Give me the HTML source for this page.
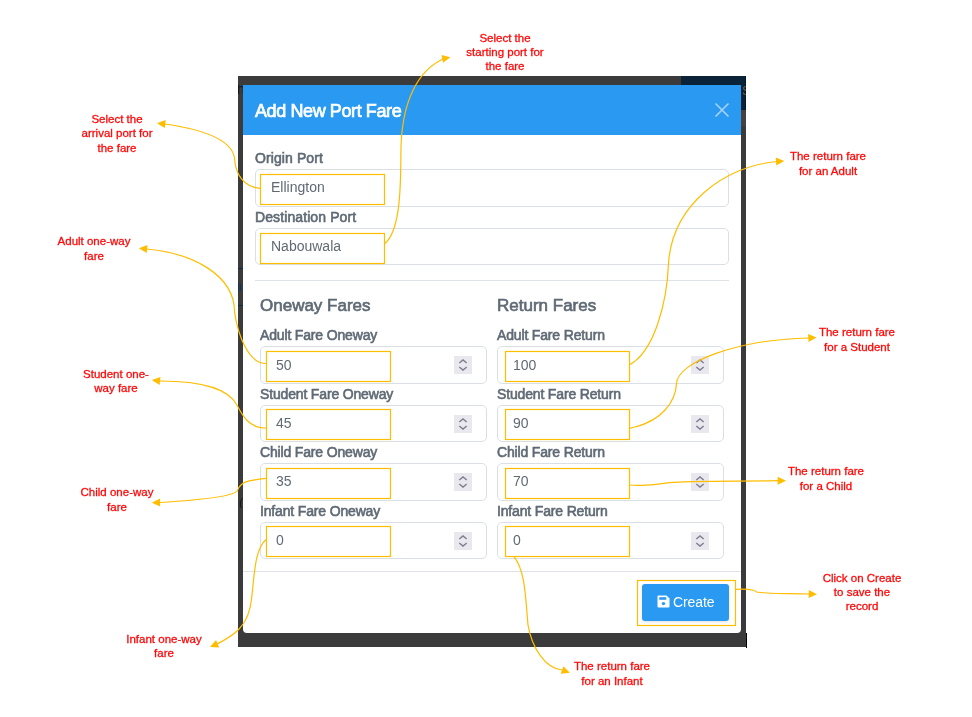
<!DOCTYPE html>
<html><head><meta charset="utf-8">
<style>
*{box-sizing:border-box;margin:0;padding:0}
html,body{width:972px;height:717px;overflow:hidden;background:#fff;font-family:"Liberation Sans",sans-serif}
.abs{position:absolute}
body>div,body>svg{will-change:transform}
#bd{left:238px;top:76px;width:508px;height:571px;background:#3b3b3b}
#navy{left:681px;top:76px;width:65px;height:34px;background:#0b2339}
#modal{left:243px;top:85px;width:498px;height:548px;background:#fff;border-radius:0 0 4px 4px}
#hdr{left:243px;top:85px;width:498px;height:50px;background:#2a99f2}
.title{font-size:18px;color:#fff;white-space:nowrap;line-height:22px;-webkit-text-stroke:0.7px #fff;letter-spacing:-0.4px}
.lbl{font-size:14px;color:#5f6a75;white-space:nowrap;line-height:16px;-webkit-text-stroke:0.6px #5f6a75;letter-spacing:0.1px}
.fl{letter-spacing:-0.16px}
.inp{border:1px solid #dadfe5;border-radius:5px;background:#fff}
.val{font-size:14px;color:#606a74;white-space:nowrap;line-height:16px}
.h5{font-size:17px;color:#5f6a75;white-space:nowrap;line-height:20px;-webkit-text-stroke:0.65px #5f6a75}
.sep{height:1px;background:#dfe3e8}
.ann{color:#ff0a0a;font-size:11.5px;line-height:14.4px;text-align:center;white-space:nowrap;-webkit-text-stroke:0.3px #ff0a0a}
</style></head><body>
<div class="abs" id="bd"></div>
<div class="abs" id="navy"></div>
<div class="abs" id="modal"></div>
<div class="abs" id="hdr"></div>
<div class="abs" style="left:741px;top:110px;width:5px;height:16px;background:#46413e"></div>
<div class="abs" style="left:746px;top:633px;width:1px;height:15px;background:#000"></div>
<div class="abs" style="left:745px;top:76px;width:1px;height:34px;background:#071624"></div>
<div class="abs" style="left:741px;top:84px;width:5px;height:14px;overflow:hidden"><div style="position:absolute;left:1px;top:0;font-size:13px;line-height:14px;color:#6a5d4b">S</div></div>
<div class="abs" style="left:238px;top:85px;width:5px;height:11px;overflow:hidden"><div style="position:absolute;left:-1px;top:-3px;font-size:14px;line-height:14px;color:#151a22">h</div></div>
<div class="abs" style="left:238px;top:268px;width:5px;height:1px;background:#0d2a48"></div>
<div class="abs" style="left:238px;top:305px;width:5px;height:1px;background:#0d2a48"></div>
<div class="abs" style="left:238px;top:283px;width:1px;height:8px;background:#173352"></div>
<div class="abs" style="left:240px;top:284px;width:1px;height:7px;background:#173352"></div>
<div class="abs" style="left:239px;top:498px;width:4px;height:10px;overflow:hidden"><div style="position:absolute;left:0;top:-2px;font-size:13px;line-height:14px;color:#15181e">(</div></div>
<div class="abs title" style="left:255px;top:100px">Add New Port Fare</div>
<svg class="abs" style="left:713px;top:101px" width="18" height="18" viewBox="0 0 18 18"><path d="M2.5 2.5L15.5 15.5M15.5 2.5L2.5 15.5" stroke="#a6d3f9" stroke-width="1.6" fill="none"/></svg>
<div class="abs lbl" style="left:255px;top:150px">Origin Port</div>
<div class="abs inp" style="left:255px;top:169px;width:474px;height:38px"></div>
<div class="abs val" style="left:271px;top:179px">Ellington</div>
<div class="abs lbl" style="left:255px;top:209px">Destination Port</div>
<div class="abs inp" style="left:255px;top:228px;width:474px;height:37px"></div>
<div class="abs val" style="left:271px;top:238px">Nabouwala</div>
<div class="abs sep" style="left:255px;top:280px;width:474px"></div>
<div class="abs h5" style="left:260px;top:296px">Oneway Fares</div>
<div class="abs h5" style="left:497px;top:296px">Return Fares</div>
<div class="abs lbl fl" style="left:260px;top:327px">Adult Fare Oneway</div>
<div class="abs inp" style="left:260px;top:346px;width:227px;height:38px"></div>
<div class="abs val" style="left:276px;top:357px">50</div>
<svg class="abs" style="left:454px;top:356px" width="18" height="18" viewBox="0 0 18 18"><rect width="18" height="18" fill="#e8e8ee"/><path d="M5.3 7L9 4L12.7 7M5.3 11L9 14L12.7 11" stroke="#7f7e8e" stroke-width="1.45" fill="none"/></svg>
<div class="abs lbl fl" style="left:497px;top:327px">Adult Fare Return</div>
<div class="abs inp" style="left:497px;top:346px;width:227px;height:38px"></div>
<div class="abs val" style="left:513px;top:357px">100</div>
<svg class="abs" style="left:691px;top:356px" width="18" height="18" viewBox="0 0 18 18"><rect width="18" height="18" fill="#e8e8ee"/><path d="M5.3 7L9 4L12.7 7M5.3 11L9 14L12.7 11" stroke="#7f7e8e" stroke-width="1.45" fill="none"/></svg>
<div class="abs lbl fl" style="left:260px;top:386px">Student Fare Oneway</div>
<div class="abs inp" style="left:260px;top:405px;width:227px;height:37px"></div>
<div class="abs val" style="left:276px;top:415px">45</div>
<svg class="abs" style="left:454px;top:414.5px" width="18" height="18" viewBox="0 0 18 18"><rect width="18" height="18" fill="#e8e8ee"/><path d="M5.3 7L9 4L12.7 7M5.3 11L9 14L12.7 11" stroke="#7f7e8e" stroke-width="1.45" fill="none"/></svg>
<div class="abs lbl fl" style="left:497px;top:386px">Student Fare Return</div>
<div class="abs inp" style="left:497px;top:405px;width:227px;height:37px"></div>
<div class="abs val" style="left:513px;top:415px">90</div>
<svg class="abs" style="left:691px;top:414.5px" width="18" height="18" viewBox="0 0 18 18"><rect width="18" height="18" fill="#e8e8ee"/><path d="M5.3 7L9 4L12.7 7M5.3 11L9 14L12.7 11" stroke="#7f7e8e" stroke-width="1.45" fill="none"/></svg>
<div class="abs lbl fl" style="left:260px;top:444px">Child Fare Oneway</div>
<div class="abs inp" style="left:260px;top:463px;width:227px;height:38px"></div>
<div class="abs val" style="left:276px;top:473px">35</div>
<svg class="abs" style="left:454px;top:473px" width="18" height="18" viewBox="0 0 18 18"><rect width="18" height="18" fill="#e8e8ee"/><path d="M5.3 7L9 4L12.7 7M5.3 11L9 14L12.7 11" stroke="#7f7e8e" stroke-width="1.45" fill="none"/></svg>
<div class="abs lbl fl" style="left:497px;top:444px">Child Fare Return</div>
<div class="abs inp" style="left:497px;top:463px;width:227px;height:38px"></div>
<div class="abs val" style="left:513px;top:473px">70</div>
<svg class="abs" style="left:691px;top:473px" width="18" height="18" viewBox="0 0 18 18"><rect width="18" height="18" fill="#e8e8ee"/><path d="M5.3 7L9 4L12.7 7M5.3 11L9 14L12.7 11" stroke="#7f7e8e" stroke-width="1.45" fill="none"/></svg>
<div class="abs lbl fl" style="left:260px;top:503px">Infant Fare Oneway</div>
<div class="abs inp" style="left:260px;top:522px;width:227px;height:37px"></div>
<div class="abs val" style="left:276px;top:532px">0</div>
<svg class="abs" style="left:454px;top:531.5px" width="18" height="18" viewBox="0 0 18 18"><rect width="18" height="18" fill="#e8e8ee"/><path d="M5.3 7L9 4L12.7 7M5.3 11L9 14L12.7 11" stroke="#7f7e8e" stroke-width="1.45" fill="none"/></svg>
<div class="abs lbl fl" style="left:497px;top:503px">Infant Fare Return</div>
<div class="abs inp" style="left:497px;top:522px;width:227px;height:37px"></div>
<div class="abs val" style="left:513px;top:532px">0</div>
<svg class="abs" style="left:691px;top:531.5px" width="18" height="18" viewBox="0 0 18 18"><rect width="18" height="18" fill="#e8e8ee"/><path d="M5.3 7L9 4L12.7 7M5.3 11L9 14L12.7 11" stroke="#7f7e8e" stroke-width="1.45" fill="none"/></svg>
<div class="abs sep" style="left:243px;top:571px;width:498px"></div>
<div class="abs" style="left:642px;top:584px;width:87px;height:37px;background:#2a99f2;border-radius:3px;box-shadow:0 1px 3px rgba(0,0,0,0.12)"></div>
<svg class="abs" style="left:657px;top:595px" width="13" height="13" viewBox="0 0 13 13"><path d="M0.5 1.5Q0.5 0.5 1.5 0.5L9.5 0.5L12.5 3.5L12.5 11.5Q12.5 12.5 11.5 12.5L1.5 12.5Q0.5 12.5 0.5 11.5Z" fill="#fff"/><rect x="2.3" y="2.2" width="7" height="2.6" fill="#2a99f2"/><circle cx="6.5" cy="8.6" r="1.7" fill="#2a99f2"/></svg>
<div class="abs" style="left:673px;top:594px;font-size:14px;line-height:16px;color:#fff;white-space:nowrap;letter-spacing:-0.1px">Create</div>
<div class="abs ann" style="left:445.0px;width:120px;top:30.59px;line-height:14.05px">Select the<br>starting port for<br>the fare</div>
<div class="abs ann" style="left:56.7px;width:120px;top:111.52px;line-height:14.4px">Select the<br>arrival port for<br>the fare</div>
<div class="abs ann" style="left:34.4px;width:120px;top:233.57px;line-height:14.7px">Adult one-way<br>fare</div>
<div class="abs ann" style="left:56.4px;width:120px;top:366.87px;line-height:14.3px">Student one-<br>way fare</div>
<div class="abs ann" style="left:56.8px;width:120px;top:485.47px;line-height:14.9px">Child one-way<br>fare</div>
<div class="abs ann" style="left:103.7px;width:120px;top:633.12px;line-height:13.8px">Infant one-way<br>fare</div>
<div class="abs ann" style="left:767.6px;width:120px;top:148.57px;line-height:14.7px">The return fare<br>for an Adult</div>
<div class="abs ann" style="left:796.6px;width:120px;top:324.57px;line-height:14.7px">The return fare<br>for a Student</div>
<div class="abs ann" style="left:765.6px;width:120px;top:463.57px;line-height:14.7px">The return fare<br>for a Child</div>
<div class="abs ann" style="left:801.5px;width:120px;top:572.04px;line-height:13.75px">Click on Create<br>to save the<br>record</div>
<div class="abs ann" style="left:551.6px;width:120px;top:659.27px;line-height:14.7px">The return fare<br>for an Infant</div>
<svg class="abs" style="left:0;top:0" width="972" height="717" viewBox="0 0 972 717"><rect x="260.5" y="174.5" width="124" height="30" fill="none" stroke="#ffbd00" stroke-width="1.2"/><rect x="260.5" y="233.5" width="124" height="30" fill="none" stroke="#ffbd00" stroke-width="1.2"/><rect x="266.5" y="351.5" width="124" height="30" fill="none" stroke="#ffbd00" stroke-width="1.2"/><rect x="505.5" y="351.5" width="124" height="30" fill="none" stroke="#ffbd00" stroke-width="1.2"/><rect x="266.5" y="409.5" width="124" height="30" fill="none" stroke="#ffbd00" stroke-width="1.2"/><rect x="505.5" y="409.5" width="124" height="30" fill="none" stroke="#ffbd00" stroke-width="1.2"/><rect x="266.5" y="468.5" width="124" height="30" fill="none" stroke="#ffbd00" stroke-width="1.2"/><rect x="505.5" y="468.5" width="124" height="30" fill="none" stroke="#ffbd00" stroke-width="1.2"/><rect x="266.5" y="526.5" width="124" height="30" fill="none" stroke="#ffbd00" stroke-width="1.2"/><rect x="505.5" y="526.5" width="124" height="30" fill="none" stroke="#ffbd00" stroke-width="1.2"/><rect x="637.5" y="580.5" width="98" height="45" fill="none" stroke="#ffbd00" stroke-width="1.2"/><path d="M384.5,244.0 C398.6,232.4 400.8,197.8 400.9,154.7 C400.7,101.6 418.1,70.0 444.0,58.5" fill="none" stroke="#ffbd00" stroke-width="1.2"/><path d="M450.40,57.20 L443.06,62.77 L441.47,54.93 Z" fill="#ffbd00"/><path d="M260.0,188.4 C243.0,186.9 235.7,173.6 234.7,159.7 C233.3,139.1 202.2,129.3 165.0,124.0" fill="none" stroke="#ffbd00" stroke-width="1.2"/><path d="M157.00,123.20 L165.66,120.05 L164.86,128.01 Z" fill="#ffbd00"/><path d="M266.3,363.5 C248.5,364.0 238.1,335.4 234.6,312.3 C234.7,274.8 192.4,253.1 146.6,249.0" fill="none" stroke="#ffbd00" stroke-width="1.2"/><path d="M138.80,248.30 L147.42,245.06 L146.71,253.03 Z" fill="#ffbd00"/><path d="M266.0,428.0 C247.7,428.3 241.0,412.6 236.8,404.7 C228.9,389.7 203.0,380.8 159.4,381.0" fill="none" stroke="#ffbd00" stroke-width="1.2"/><path d="M151.80,380.10 L160.51,377.10 L159.57,385.05 Z" fill="#ffbd00"/><path d="M266.0,478.3 C247.6,480.2 240.4,482.0 237.7,490.1 C235.4,496.6 200.8,500.0 159.4,502.5" fill="none" stroke="#ffbd00" stroke-width="1.2"/><path d="M151.80,502.70 L159.99,498.48 L160.20,506.48 Z" fill="#ffbd00"/><path d="M266.8,539.0 C254.1,548.7 254.5,576.4 251.6,598.2 C248.9,629.1 229.5,637.4 217.0,644.0" fill="none" stroke="#ffbd00" stroke-width="1.2"/><path d="M210.00,647.00 L216.05,640.05 L219.20,647.41 Z" fill="#ffbd00"/><path d="M629.6,364.8 C654.9,350.9 666.9,301.2 668.4,265.0 C671.6,204.5 725.1,166.0 777.0,161.5" fill="none" stroke="#ffbd00" stroke-width="1.2"/><path d="M784.30,161.00 L776.29,165.56 L775.75,157.58 Z" fill="#ffbd00"/><path d="M629.7,428.3 C662.8,421.5 675.5,401.1 676.5,383.8 C677.5,361.3 738.7,339.6 809.0,338.0" fill="none" stroke="#ffbd00" stroke-width="1.2"/><path d="M816.60,337.50 L808.58,342.04 L808.06,334.05 Z" fill="#ffbd00"/><path d="M629.6,485.0 C650.4,486.6 660.8,483.7 669.7,482.6 C690.0,480.6 740.3,481.4 779.0,480.7" fill="none" stroke="#ffbd00" stroke-width="1.2"/><path d="M786.00,480.70 L777.70,484.70 L777.70,476.70 Z" fill="#ffbd00"/><path d="M735.3,589.4 C753.4,587.8 757.8,592.4 756.1,592.0 C765.7,594.0 789.2,593.3 809.0,594.0" fill="none" stroke="#ffbd00" stroke-width="1.2"/><path d="M817.00,594.20 L808.60,597.99 L808.80,589.99 Z" fill="#ffbd00"/><path d="M513.7,556.3 C524.2,568.6 525.4,591.7 527.9,624.3 C531.6,647.1 545.0,668.4 562.0,670.0" fill="none" stroke="#ffbd00" stroke-width="1.2"/><path d="M569.90,672.80 L560.74,673.80 L563.41,666.26 Z" fill="#ffbd00"/></svg>
</body></html>
